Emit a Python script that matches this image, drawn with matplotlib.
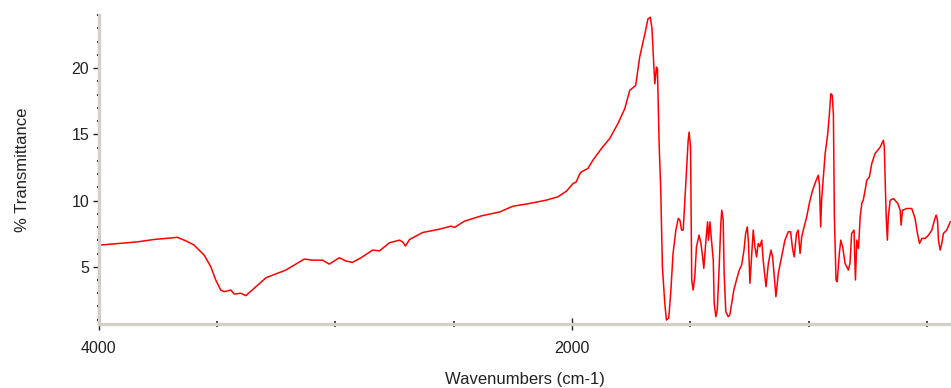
import matplotlib
matplotlib.use("Agg")
import matplotlib.pyplot as plt
from matplotlib.ticker import FixedLocator, MultipleLocator

plt.rcParams['font.family'] = ['Liberation Sans', 'DejaVu Sans']

# spectrum
wavenumber = [3993, 3915, 3838, 3767, 3668, 3633, 3598, 3555, 3527, 3506,
              3485, 3471, 3442, 3428, 3400, 3379, 3344, 3294, 3210, 3174,
              3132, 3097, 3055, 3026, 2984, 2955, 2928, 2892, 2843, 2814,
              2772, 2730, 2716, 2704, 2687, 2631, 2560, 2511, 2497, 2455,
              2384, 2306, 2250, 2179, 2109, 2060, 2024, 1996, 1982, 1968,
              1961, 1933, 1912, 1876, 1841, 1806, 1777, 1756, 1731, 1714,
              1692, 1679, 1669, 1662, 1655, 1650, 1643, 1639, 1632, 1625,
              1618, 1608, 1601, 1591, 1582, 1573, 1561, 1551, 1544, 1537,
              1530, 1523, 1516, 1509, 1505, 1499, 1494, 1488, 1481, 1474,
              1463, 1455, 1448, 1443, 1434, 1427, 1423, 1417, 1413, 1403,
              1399, 1392, 1386, 1378, 1371, 1367, 1361, 1357, 1350, 1340,
              1333, 1325, 1316, 1305, 1293, 1283, 1273, 1266, 1259, 1254,
              1248, 1241, 1234, 1227, 1220, 1213, 1206, 1198, 1192, 1180,
              1170, 1159, 1152, 1145, 1138, 1128, 1114, 1100, 1086, 1076,
              1068, 1061, 1051, 1044, 1036, 1029, 1019, 1008, 997, 983,
              968, 959, 954, 949, 945, 930, 919, 912, 906, 900,
              895, 891, 884, 879, 870, 864, 856, 846, 832, 825,
              818, 808, 802, 796, 789, 782, 775, 769, 761, 754,
              743, 733, 719, 697, 684, 680, 672, 667, 663, 655,
              641, 623, 613, 609, 603, 585, 564, 550, 540, 531,
              521, 507, 493, 479, 468, 461, 455, 451, 444, 437,
              430, 416, 401]
transmittance = [6.64, 6.76, 6.88, 7.06, 7.22, 6.96, 6.64, 5.88, 5.00, 4.00,
                 3.24, 3.12, 3.24, 2.94, 3.00, 2.82, 3.37, 4.17, 4.75, 5.13,
                 5.58, 5.50, 5.50, 5.20, 5.68, 5.43, 5.33, 5.68, 6.26, 6.20,
                 6.81, 7.01, 6.88, 6.56, 7.06, 7.59, 7.84, 8.07, 7.97, 8.44,
                 8.84, 9.14, 9.57, 9.78, 10.03, 10.28, 10.70, 11.28, 11.41, 11.99,
                 12.16, 12.42, 13.04, 13.92, 14.68, 15.81, 16.94, 18.32, 18.69, 20.83,
                 22.59, 23.72, 23.84, 22.97, 20.45, 18.82, 20.07, 19.95, 14.40, 10.78,
                 5.00, 2.26, 0.98, 1.13, 3.24, 6.00, 7.77, 8.65, 8.52, 7.77,
                 7.77, 10.03, 12.29, 14.55, 15.17, 14.04, 4.00, 3.24, 4.25, 6.51,
                 7.39, 6.76, 5.75, 4.88, 7.01, 8.39, 7.01, 8.39, 7.52, 5.50,
                 2.24, 1.23, 1.74, 5.00, 8.27, 9.27, 8.52, 4.50, 1.61, 1.23,
                 1.36, 2.24, 3.24, 4.00, 4.75, 5.13, 6.26, 7.52, 8.01, 6.76,
                 3.75, 5.75, 7.77, 6.51, 5.75, 6.76, 6.51, 7.01, 5.50, 3.49,
                 5.26, 6.26, 5.75, 4.25, 2.74, 4.50, 5.75, 7.01, 7.64, 7.64,
                 6.39, 5.75, 7.52, 7.77, 6.00, 7.26, 8.01, 8.77, 9.78, 10.78,
                 11.53, 11.91, 11.16, 8.01, 10.03, 13.55, 15.05, 16.56, 18.07, 17.94,
                 16.43, 8.77, 4.00, 3.87, 6.00, 7.01, 6.51, 5.26, 4.75, 5.26,
                 7.52, 7.77, 4.00, 7.01, 6.39, 8.77, 9.78, 10.03, 10.78, 11.53,
                 11.78, 12.79, 13.55, 14.04, 14.55, 14.04, 8.77, 7.01, 8.77, 10.03,
                 10.15, 9.78, 9.27, 8.14, 9.27, 9.40, 9.40, 8.65, 7.52, 6.76,
                 7.14, 7.14, 7.39, 7.77, 8.52, 8.90, 8.52, 7.01, 6.26, 6.76,
                 7.52, 7.77, 8.39]

x_labeled = [4000, 2000]
y_ticks = [5, 10, 15, 20]

fig = plt.figure(figsize=(9.51, 3.88), dpi=100)
ax = fig.add_axes([0.104, 0.165, 0.896, 0.796])

ax.plot(wavenumber, transmittance, color='red', linewidth=1.1)

ax.set_xlim(4000, 398)
ax.set_ylim(0.68, 24.0)

for side in ['top', 'right']:
    ax.spines[side].set_visible(False)
for side in ['left', 'bottom']:
    ax.spines[side].set_color('#d4d0c8')
    ax.spines[side].set_linewidth(2.4)

ax.xaxis.set_major_locator(FixedLocator(x_labeled))
ax.xaxis.set_minor_locator(MultipleLocator(500))
ax.set_yticks(y_ticks)
ax.yaxis.set_minor_locator(MultipleLocator(1))

ax.tick_params(axis='x', which='major', direction='inout', length=8, width=1,
               color='#222222', labelsize=11.5, pad=8, labelcolor='#222222')
ax.tick_params(axis='x', which='minor', direction='inout', length=4, width=1.2,
               color='#222222')
ax.tick_params(axis='y', which='major', direction='out', length=4, width=1,
               color='#222222', labelsize=11.5, pad=3, labelcolor='#222222')
ax.tick_params(axis='y', which='minor', direction='out', length=1.5, width=1.5,
               color='#222222')

ax.set_xlabel('Wavenumbers (cm-1)', fontsize=12, color='#222222', labelpad=12)
ax.set_ylabel('% Transmittance', fontsize=12, color='#222222', labelpad=30)

fig.savefig('out.png', dpi=100)
